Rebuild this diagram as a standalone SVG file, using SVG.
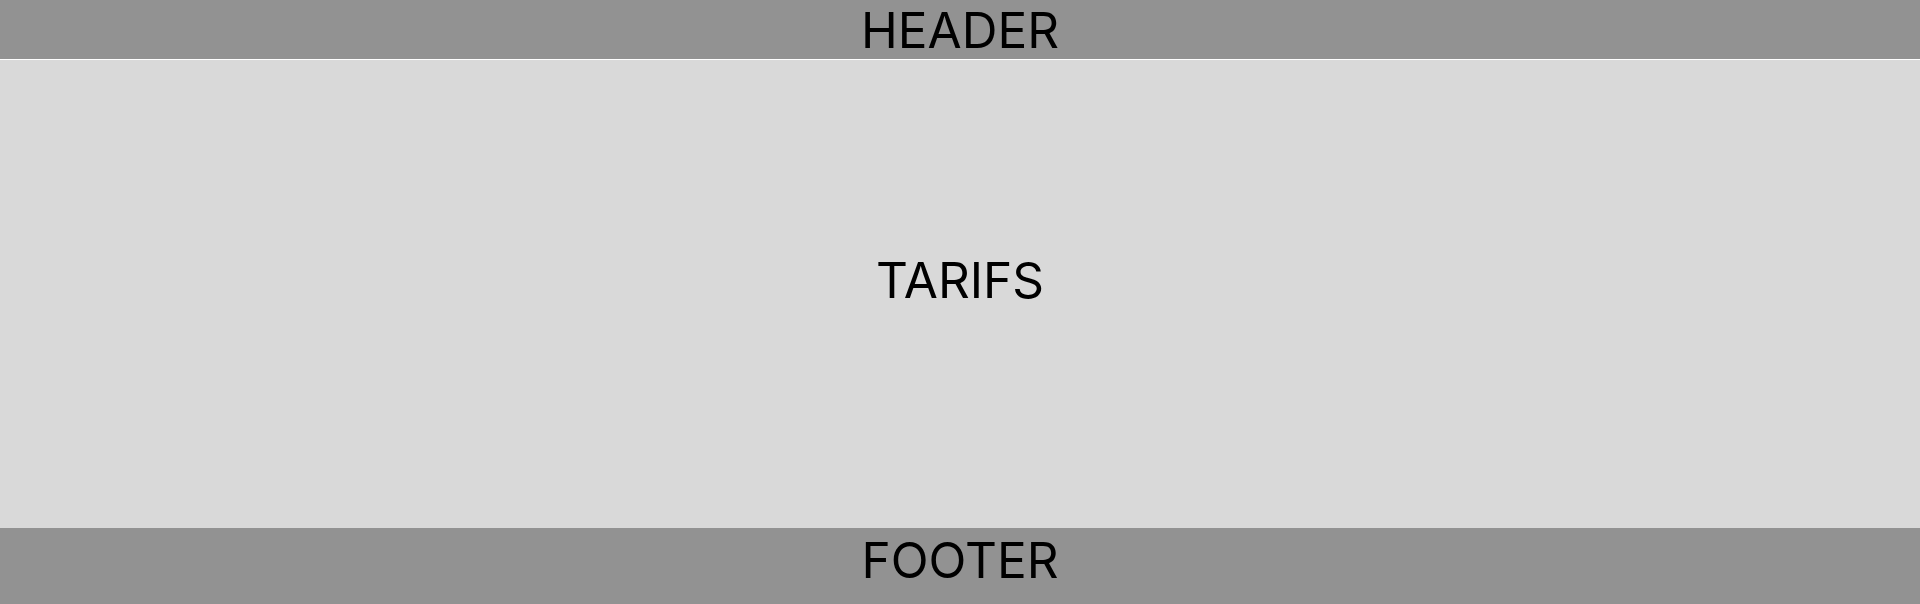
<svg xmlns="http://www.w3.org/2000/svg" width="1920" height="604" viewBox="0 0 1920 604">
<style>
.band{fill:#929292}
.body{fill:#d9d9d9}
.lbl{font-family:Inter,"Liberation Sans",sans-serif;font-size:49.5px;fill:#000;text-anchor:middle}
</style>
<rect x="0" y="0" width="1920" height="604" fill="#ffffff"/>
<g id="header">
<rect class="band" x="0" y="0" width="1920" height="59"/>
<text class="lbl" x="960" y="48">HEADER</text>
</g>
<g id="tarifs">
<rect class="body" x="0" y="60" width="1920" height="468"/>
<text class="lbl" x="960" y="298">TARIFS</text>
</g>
<g id="footer">
<rect class="band" x="0" y="528" width="1920" height="76"/>
<text class="lbl" x="960" y="578">FOOTER</text>
</g>
<g id="connectors"></g>
</svg>
